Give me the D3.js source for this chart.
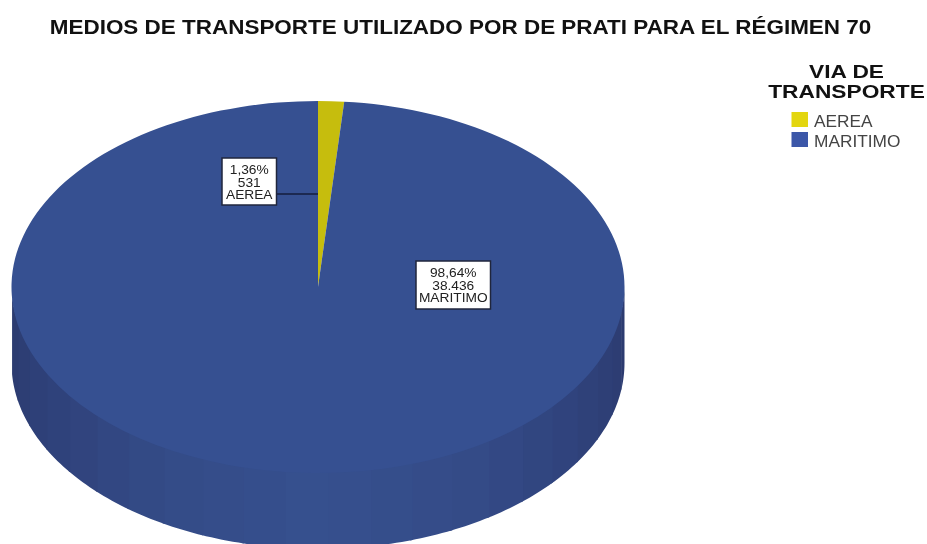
<!DOCTYPE html>
<html>
<head>
<meta charset="utf-8">
<script src="https://cdn.jsdelivr.net/npm/d3@7/dist/d3.min.js"></script>
<style>
html,body{margin:0;padding:0;background:#fff;overflow:hidden}
svg{display:block;filter:blur(0.35px)}
text{font-family:"Liberation Sans",Arial,sans-serif}
</style>
</head>
<body>
<svg id="chart" width="927" height="544"></svg>
<script>
const titleText = "MEDIOS DE TRANSPORTE UTILIZADO POR DE PRATI PARA EL RÉGIMEN 70";
const legendTitle = ["VIA DE", "TRANSPORTE"];
const categories = ["AEREA", "MARITIMO"];
const values = [531, 38436];
const percentLabels = ["1,36%", "98,64%"];
const countLabels = ["531", "38.436"];
const topColors = ["#c6bd0d", "#365091"];
const legendColors = ["#e3d60f", "#3c57a8"];

const cx = 318, cy = 287, rx = 306.5, ry = 186, depth = 76;
const svg = d3.select("#chart");

// The source image is stretched sideways, so text is widened with a horizontal scale
const wideText = (parent, x, y, sx, str) => parent.append("text")
  .attr("transform", `translate(${x},${y}) scale(${sx},1)`)
  .attr("text-anchor", "middle").text(str);

wideText(svg, 460.5, 34, 1.112, titleText)
  .attr("font-size", 20.2).attr("font-weight", "bold").attr("fill", "#111");

const pie = d3.pie().value(d => d).sort(null);
const arcs = pie(values);
const arc = d3.arc().innerRadius(0).outerRadius(rx);
const project = a => [cx + rx * Math.sin(a), cy - ry * Math.cos(a)];

// Side wall: stepped bands around the front half of the disc
const stepDeg = 8;
const bandEdges = d3.range(90, 270 + 0.01, stepDeg);
const shade = d3.scaleLinear().domain([0, 30, 60, 90])
  .range(["#36508f", "#344b87", "#2f417a", "#2b3a6e"]).clamp(true);
const wall = svg.append("g");
bandEdges.slice(0, -1).forEach((deg, i) => {
  const a0 = deg * Math.PI / 180;
  const a1 = Math.min(bandEdges[i + 1] + 0.5, 270) * Math.PI / 180;
  const samples = d3.range(0, 1.0001, 0.125).map(t => a0 + (a1 - a0) * t);
  const upper = samples.map(a => {
    const p = project(a);
    return [p[0], p[1] - 3];
  });
  const lower = samples.slice().reverse().map(a => {
    const p = project(a);
    return [p[0], p[1] + depth];
  });
  const mid = Math.abs(deg + stepDeg / 2 - 180);
  wall.append("path").attr("d", d3.line()(upper.concat(lower)) + "Z").attr("fill", shade(mid));
});

// Top face
const topFace = svg.append("g").attr("transform", `translate(${cx},${cy}) scale(1,${ry / rx})`);
topFace.selectAll("path").data(arcs).join("path")
  .attr("d", arc).attr("fill", (d, i) => topColors[i]);

// Data labels
const labelBoxes = [
  { x: 222, y: 158, w: 54.5, h: 47, lead: true },
  { x: 416, y: 261, w: 74.5, h: 48, lead: false }
];
const labelLayer = svg.append("g");
labelBoxes.forEach((b, i) => {
  if (b.lead) {
    const edge = project(arcs[i].startAngle);
    labelLayer.append("line").attr("x1", b.x + b.w).attr("x2", edge[0])
      .attr("y1", 194).attr("y2", 194).attr("stroke", "#141d3c").attr("stroke-width", 1.5);
  }
  labelLayer.append("rect").attr("x", b.x).attr("y", b.y).attr("width", b.w).attr("height", b.h)
    .attr("fill", "#fff").attr("stroke", "#20263c").attr("stroke-width", 1.5);
  [percentLabels[i], countLabels[i], categories[i]].forEach((t, j) => {
    wideText(labelLayer, b.x + b.w / 2, b.y + 16 + j * 12.5, 1.1, t)
      .attr("font-size", 12.5).attr("fill", "#222");
  });
});

// Legend
const legendLayer = svg.append("g");
legendTitle.forEach((t, i) => {
  wideText(legendLayer, 846.5, 78 + i * 19.5, 1.21, t)
    .attr("font-size", 18.8).attr("font-weight", "bold").attr("fill", "#111");
});
categories.forEach((c, i) => {
  legendLayer.append("rect").attr("x", 791.5).attr("y", 112 + i * 20).attr("width", 16.5).attr("height", 15)
    .attr("fill", legendColors[i]);
  legendLayer.append("text").attr("x", 814).attr("y", 127 + i * 20)
    .attr("font-size", 17.3).attr("fill", "#444").text(c);
});
</script>
</body>
</html>
